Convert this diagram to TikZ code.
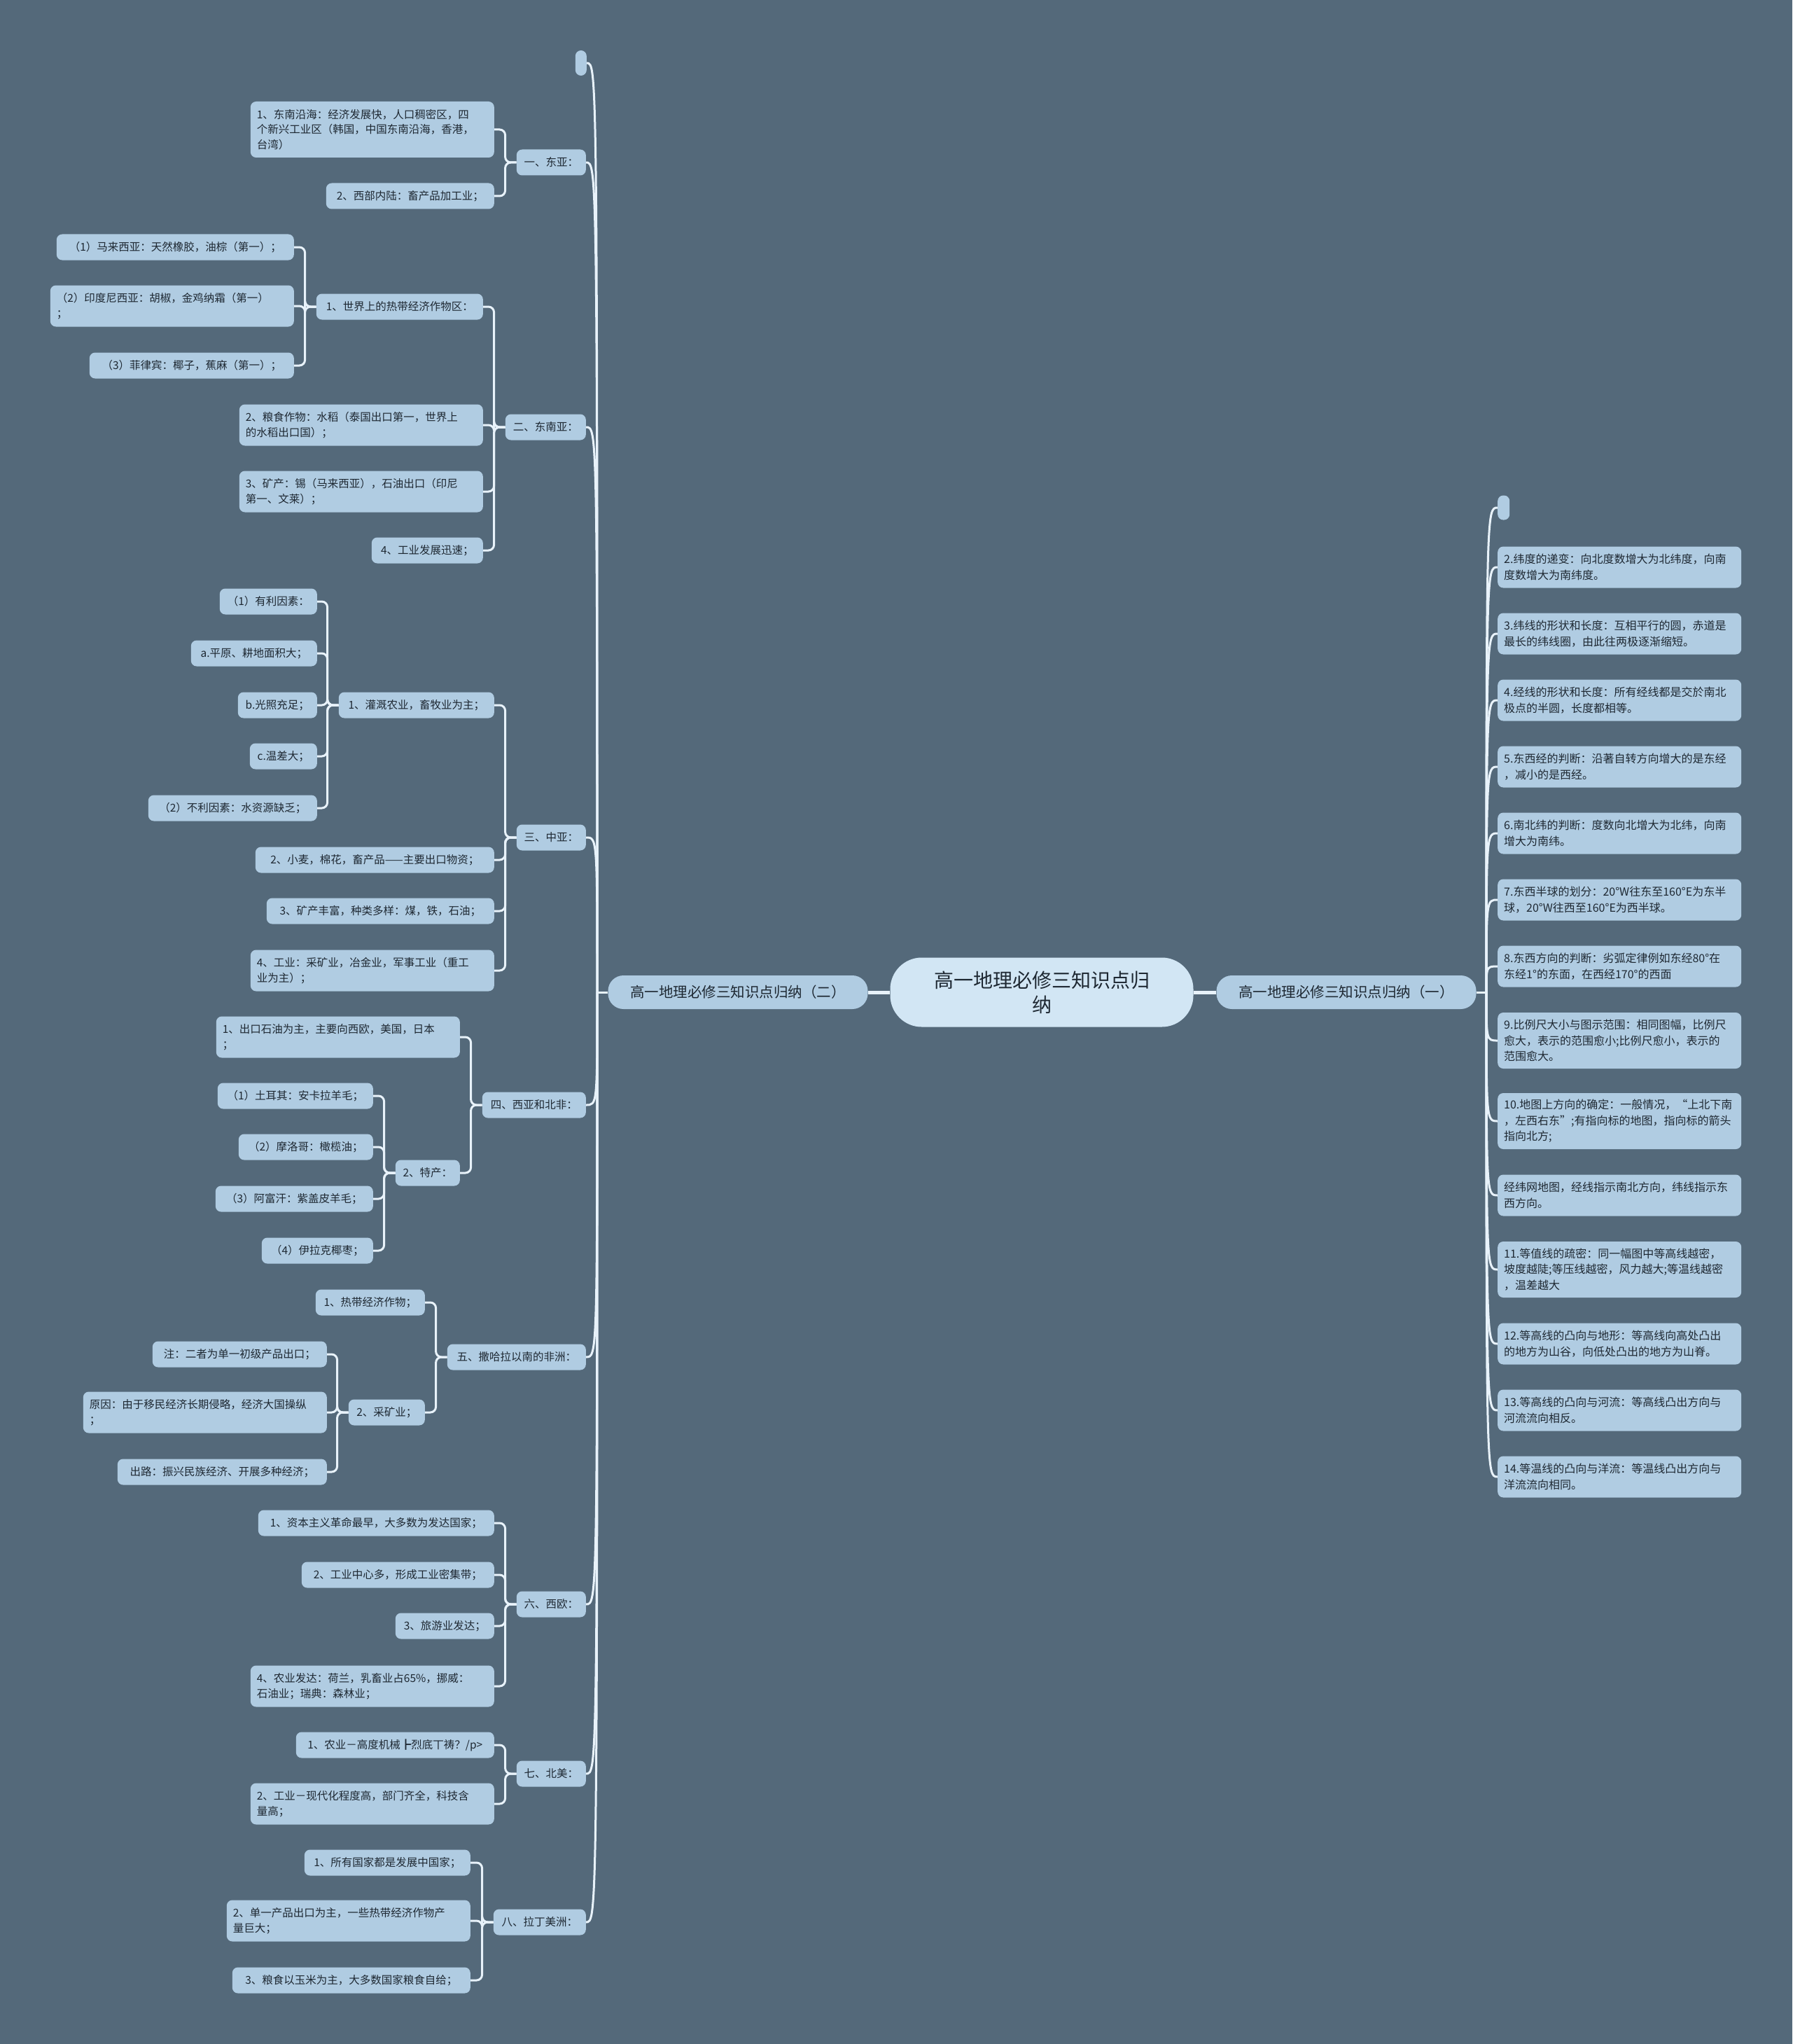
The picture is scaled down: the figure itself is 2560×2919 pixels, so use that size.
\documentclass[tikz,border=0pt]{standalone}
\usepackage{fontspec}
\setmainfont{Noto Sans CJK SC}
\definecolor{bgslate}{RGB}{84,105,122}
\definecolor{boxblue}{RGB}{176,204,226}
\definecolor{rootblue}{RGB}{210,230,244}
\definecolor{inkdark}{RGB}{30,40,50}
\definecolor{linkwhite}{RGB}{232,242,250}
\tikzset{
  leaf/.style={fill=boxblue, rounded corners=8pt, text=inkdark, anchor=east,
    font=\fontsize{15.5}{21.5}\selectfont, inner xsep=9pt, inner ysep=0pt, minimum height=37pt},
  wrap/.style={text width=330pt, align=left},
  tall2/.style={minimum height=59pt},
  tall3/.style={minimum height=80pt},
  rleaf/.style={leaf, wrap, anchor=west, font=\fontsize{16}{22.5}\selectfont},
  rootbox/.style={fill=rootblue, rounded corners=45pt, text=inkdark, align=center,
    minimum width=433pt, minimum height=99pt, font=\fontsize{28}{35}\selectfont},
  mainbox/.style={fill=boxblue, rounded corners=22pt, text=inkdark,
    minimum width=371pt, minimum height=48pt, font=\fontsize{20.5}{25}\selectfont},
  link/.style={draw=linkwhite, line width=3pt, rounded corners=8pt},
  mainlink/.style={draw=linkwhite, line width=5pt}
}
\begin{document}
\begin{tikzpicture}[x=1pt,y=-1pt]
\fill[bgslate] (0,0) rectangle (2560,2919);

\node[rootbox] (root) at (1488,1417) {高一地理必修三知识点归\\纳};
\node[mainbox] (lmain) at (1054,1417) {高一地理必修三知识点归纳（二）};
\node[mainbox] (rmain) at (1923,1417) {高一地理必修三知识点归纳（一）};
\draw[mainlink] (root.west) -- (lmain.east);
\draw[mainlink] (root.east) -- (rmain.west);

% left half
\node[leaf, minimum width=16pt, minimum height=36pt, inner xsep=0pt] (lblank) at (838,90) {};
\node[leaf, minimum width=99pt] (dongya) at (837,232) {一、东亚：};
\node[leaf, wrap, tall3] (dongya1) at (706,185) {1、东南沿海：经济发展快，人口稠密区，四\\个新兴工业区（韩国，中国东南沿海，香港，\\台湾）};
\node[leaf, minimum width=240pt] (dongya2) at (706,280) {2、西部内陆：畜产品加工业；};

\node[leaf, minimum width=115pt] (dongnanya) at (837,610) {二、东南亚：};
\node[leaf, minimum width=238pt] (dny1) at (690,438) {1、世界上的热带经济作物区：};
\node[leaf, minimum width=339pt] (dny1a) at (420,353) {（1）马来西亚：天然橡胶，油棕（第一）；};
\node[leaf, wrap, tall2] (dny1b) at (420,437) {（2）印度尼西亚：胡椒，金鸡纳霜（第一）\\；};
\node[leaf, minimum width=292pt] (dny1c) at (420,522) {（3）菲律宾：椰子，蕉麻（第一）；};
\node[leaf, wrap, tall2] (dny2) at (690,607) {2、粮食作物：水稻（泰国出口第一，世界上\\的水稻出口国）；};
\node[leaf, wrap, tall2] (dny3) at (690,702) {3、矿产：锡（马来西亚），石油出口（印尼\\第一、文莱）；};
\node[leaf, minimum width=159pt] (dny4) at (690,786) {4、工业发展迅速；};

\node[leaf, minimum width=99pt] (zhongya) at (837,1196) {三、中亚：};
\node[leaf, minimum width=222pt] (zy1) at (706,1007) {1、灌溉农业，畜牧业为主；};
\node[leaf, minimum width=139pt] (zy1a) at (453,859) {（1）有利因素：};
\node[leaf, minimum width=180pt] (zy1b) at (453,933) {a.平原、耕地面积大；};
\node[leaf, minimum width=113pt] (zy1c) at (453,1007) {b.光照充足；};
\node[leaf, minimum width=96pt] (zy1d) at (453,1080) {c.温差大；};
\node[leaf, minimum width=241pt] (zy1e) at (453,1154) {（2）不利因素：水资源缺乏；};
\node[leaf, minimum width=341pt] (zy2) at (706,1228) {2、小麦，棉花，畜产品——主要出口物资；};
\node[leaf, minimum width=325pt] (zy3) at (706,1301) {3、矿产丰富，种类多样：煤，铁，石油；};
\node[leaf, wrap, tall2] (zy4) at (706,1386) {4、工业：采矿业，冶金业，军事工业（重工\\业为主）；};

\node[leaf, minimum width=148pt] (xiya) at (837,1578) {四、西亚和北非：};
\node[leaf, wrap, tall2] (xy1) at (657,1481) {1、出口石油为主，主要向西欧，美国，日本\\；};
\node[leaf, minimum width=92pt] (xy2) at (657,1675) {2、特产：};
\node[leaf, minimum width=222pt] (xy2a) at (533,1565) {（1）土耳其：安卡拉羊毛；};
\node[leaf, minimum width=192pt] (xy2b) at (533,1638) {（2）摩洛哥：橄榄油；};
\node[leaf, minimum width=225pt] (xy2c) at (533,1712) {（3）阿富汗：紫盖皮羊毛；};
\node[leaf, minimum width=159pt] (xy2d) at (533,1786) {（4）伊拉克椰枣；};

\node[leaf, minimum width=198pt] (feizhou) at (837,1938) {五、撒哈拉以南的非洲：};
\node[leaf, minimum width=156pt] (fz1) at (607,1860) {1、热带经济作物；};
\node[leaf, minimum width=109pt] (fz2) at (607,2017) {2、采矿业；};
\node[leaf, minimum width=249pt] (fz2a) at (467,1934) {注：二者为单一初级产品出口；};
\node[leaf, wrap, tall2] (fz2b) at (467,2017) {原因：由于移民经济长期侵略，经济大国操纵\\；};
\node[leaf, minimum width=299pt] (fz2c) at (467,2102) {出路：振兴民族经济、开展多种经济；};

\node[leaf, minimum width=99pt] (xiou) at (837,2291) {六、西欧：};
\node[leaf, minimum width=337pt] (xo1) at (706,2175) {1、资本主义革命最早，大多数为发达国家；};
\node[leaf, minimum width=275pt] (xo2) at (706,2249) {2、工业中心多，形成工业密集带；};
\node[leaf, minimum width=141pt] (xo3) at (706,2322) {3、旅游业发达；};
\node[leaf, wrap, tall2] (xo4) at (706,2408) {4、农业发达：荷兰，乳畜业占65\%，挪威：\\石油业；瑞典：森林业；};

\node[leaf, minimum width=99pt] (beimei) at (837,2533) {七、北美：};
\node[leaf, minimum width=283pt] (bm1) at (706,2492) {1、农业－高度机械┣烈底丅祷？/p>};
\node[leaf, wrap, tall2] (bm2) at (706,2576) {2、工业－现代化程度高，部门齐全，科技含\\量高；};

\node[leaf, minimum width=132pt] (lamei) at (837,2745) {八、拉丁美洲：};
\node[leaf, minimum width=237pt] (lm1) at (672,2660) {1、所有国家都是发展中国家；};
\node[leaf, wrap, tall2] (lm2) at (672,2743) {2、单一产品出口为主，一些热带经济作物产\\量巨大；};
\node[leaf, minimum width=340pt] (lm3) at (672,2828) {3、粮食以玉米为主，大多数国家粮食自给；};

\coordinate (lt) at (853,1417);
\draw[link] (lmain.west) -- (lt);
\draw[link] (lt) .. controls (lt |- lblank.east) .. (lblank.east);
\draw[link] (lt) .. controls (lt |- dongya.east) .. (dongya.east);
\draw[link] (lt) .. controls (lt |- dongnanya.east) .. (dongnanya.east);
\draw[link] (lt) .. controls (lt |- zhongya.east) .. (zhongya.east);
\draw[link] (lt) .. controls (lt |- xiya.east) .. (xiya.east);
\draw[link] (lt) .. controls (lt |- feizhou.east) .. (feizhou.east);
\draw[link] (lt) .. controls (lt |- xiou.east) .. (xiou.east);
\draw[link] (lt) .. controls (lt |- beimei.east) .. (beimei.east);
\draw[link] (lt) .. controls (lt |- lamei.east) .. (lamei.east);

\draw[link] (dongya.west) -- ++(-16,0) |- (dongya1.east);
\draw[link] (dongya.west) -- ++(-16,0) |- (dongya2.east);
\draw[link] (dongnanya.west) -- ++(-16,0) |- (dny1.east);
\draw[link] (dongnanya.west) -- ++(-16,0) |- (dny2.east);
\draw[link] (dongnanya.west) -- ++(-16,0) |- (dny3.east);
\draw[link] (dongnanya.west) -- ++(-16,0) |- (dny4.east);
\draw[link] (dny1.west) -- ++(-16,0) |- (dny1a.east);
\draw[link] (dny1.west) -- ++(-16,0) |- (dny1b.east);
\draw[link] (dny1.west) -- ++(-16,0) |- (dny1c.east);
\draw[link] (zhongya.west) -- ++(-16,0) |- (zy1.east);
\draw[link] (zhongya.west) -- ++(-16,0) |- (zy2.east);
\draw[link] (zhongya.west) -- ++(-16,0) |- (zy3.east);
\draw[link] (zhongya.west) -- ++(-16,0) |- (zy4.east);
\draw[link] (zy1.west) -- ++(-16,0) |- (zy1a.east);
\draw[link] (zy1.west) -- ++(-16,0) |- (zy1b.east);
\draw[link] (zy1.west) -- ++(-16,0) |- (zy1c.east);
\draw[link] (zy1.west) -- ++(-16,0) |- (zy1d.east);
\draw[link] (zy1.west) -- ++(-16,0) |- (zy1e.east);
\draw[link] (xiya.west) -- ++(-16,0) |- (xy1.east);
\draw[link] (xiya.west) -- ++(-16,0) |- (xy2.east);
\draw[link] (xy2.west) -- ++(-16,0) |- (xy2a.east);
\draw[link] (xy2.west) -- ++(-16,0) |- (xy2b.east);
\draw[link] (xy2.west) -- ++(-16,0) |- (xy2c.east);
\draw[link] (xy2.west) -- ++(-16,0) |- (xy2d.east);
\draw[link] (feizhou.west) -- ++(-16,0) |- (fz1.east);
\draw[link] (feizhou.west) -- ++(-16,0) |- (fz2.east);
\draw[link] (fz2.west) -- ++(-16,0) |- (fz2a.east);
\draw[link] (fz2.west) -- ++(-16,0) |- (fz2b.east);
\draw[link] (fz2.west) -- ++(-16,0) |- (fz2c.east);
\draw[link] (xiou.west) -- ++(-16,0) |- (xo1.east);
\draw[link] (xiou.west) -- ++(-16,0) |- (xo2.east);
\draw[link] (xiou.west) -- ++(-16,0) |- (xo3.east);
\draw[link] (xiou.west) -- ++(-16,0) |- (xo4.east);
\draw[link] (beimei.west) -- ++(-16,0) |- (bm1.east);
\draw[link] (beimei.west) -- ++(-16,0) |- (bm2.east);
\draw[link] (lamei.west) -- ++(-16,0) |- (lm1.east);
\draw[link] (lamei.west) -- ++(-16,0) |- (lm2.east);
\draw[link] (lamei.west) -- ++(-16,0) |- (lm3.east);

% right half
\node[leaf, anchor=west, minimum width=17pt, minimum height=35pt, inner xsep=0pt] (rblank) at (2139,725) {};
\node[rleaf, tall2] (r2) at (2139,810) {2.纬度的递变：向北度数增大为北纬度，向南\\度数增大为南纬度。};
\node[rleaf, tall2] (r3) at (2139,905) {3.纬线的形状和长度：互相平行的圆，赤道是\\最长的纬线圈，由此往两极逐渐缩短。};
\node[rleaf, tall2] (r4) at (2139,1000) {4.经线的形状和长度：所有经线都是交於南北\\极点的半圆，长度都相等。};
\node[rleaf, tall2] (r5) at (2139,1095) {5.东西经的判断：沿著自转方向增大的是东经\\，减小的是西经。};
\node[rleaf, tall2] (r6) at (2139,1190) {6.南北纬的判断：度数向北增大为北纬，向南\\增大为南纬。};
\node[rleaf, tall2] (r7) at (2139,1285) {7.东西半球的划分：20°W往东至160°E为东半\\球，20°W往西至160°E为西半球。};
\node[rleaf, tall2] (r8) at (2139,1380) {8.东西方向的判断：劣弧定律例如东经80°在\\东经1°的东面，在西经170°的西面};
\node[rleaf, tall3] (r9) at (2139,1486) {9.比例尺大小与图示范围：相同图幅，比例尺\\愈大，表示的范围愈小;比例尺愈小，表示的\\范围愈大。};
\node[rleaf, tall3] (r10) at (2139,1601) {10.地图上方向的确定：一般情况，“上北下南\\，左西右东”;有指向标的地图，指向标的箭头\\指向北方;};
\node[rleaf, tall2] (r11) at (2139,1707) {经纬网地图，经线指示南北方向，纬线指示东\\西方向。};
\node[rleaf, tall3] (r12) at (2139,1813) {11.等值线的疏密：同一幅图中等高线越密，\\坡度越陡;等压线越密，风力越大;等温线越密\\，温差越大};
\node[rleaf, tall2] (r13) at (2139,1919) {12.等高线的凸向与地形：等高线向高处凸出\\的地方为山谷，向低处凸出的地方为山脊。};
\node[rleaf, tall2] (r14) at (2139,2014) {13.等高线的凸向与河流：等高线凸出方向与\\河流流向相反。};
\node[rleaf, tall2] (r15) at (2139,2109) {14.等温线的凸向与洋流：等温线凸出方向与\\洋流流向相同。};

\coordinate (rt) at (2123,1417);
\draw[link] (rmain.east) -- (rt);
\draw[link] (rt) .. controls (rt |- rblank.west) .. (rblank.west);
\draw[link] (rt) .. controls (rt |- r2.west) .. (r2.west);
\draw[link] (rt) .. controls (rt |- r3.west) .. (r3.west);
\draw[link] (rt) .. controls (rt |- r4.west) .. (r4.west);
\draw[link] (rt) .. controls (rt |- r5.west) .. (r5.west);
\draw[link] (rt) .. controls (rt |- r6.west) .. (r6.west);
\draw[link] (rt) .. controls (rt |- r7.west) .. (r7.west);
\draw[link] (rt) .. controls (rt |- r8.west) .. (r8.west);
\draw[link] (rt) .. controls (rt |- r9.west) .. (r9.west);
\draw[link] (rt) .. controls (rt |- r10.west) .. (r10.west);
\draw[link] (rt) .. controls (rt |- r11.west) .. (r11.west);
\draw[link] (rt) .. controls (rt |- r12.west) .. (r12.west);
\draw[link] (rt) .. controls (rt |- r13.west) .. (r13.west);
\draw[link] (rt) .. controls (rt |- r14.west) .. (r14.west);
\draw[link] (rt) .. controls (rt |- r15.west) .. (r15.west);
\end{tikzpicture}
\end{document}
